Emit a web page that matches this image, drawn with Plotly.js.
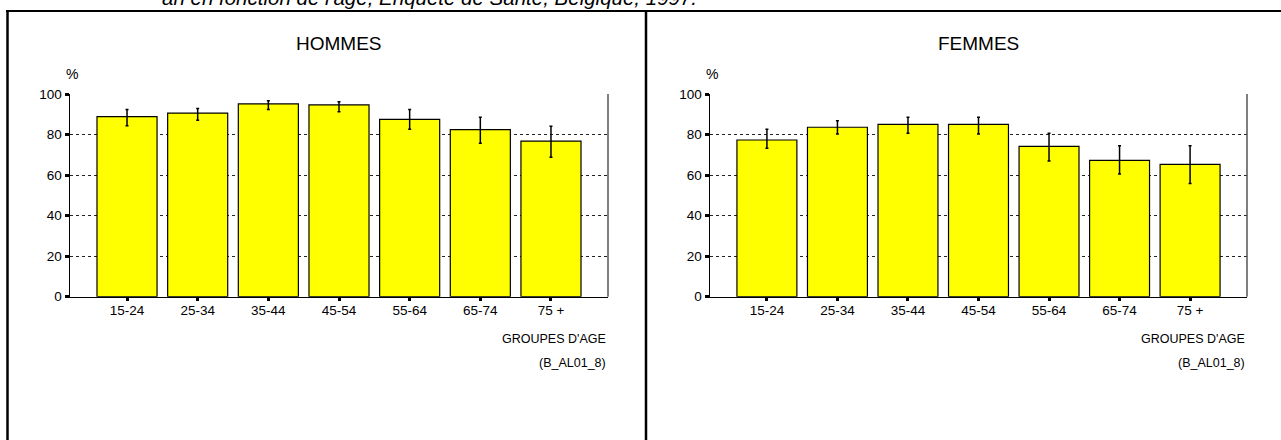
<!DOCTYPE html>
<html>
<head>
<meta charset="utf-8">
<script src="https://cdn.plot.ly/plotly-3.0.1.min.js"></script>
<style>html,body{margin:0;padding:0;background:#fff;}#chart{width:1281px;height:440px;}</style>
</head>
<body>
<div id="chart"></div>
<script>
// Data
var ageGroups = ["15-24", "25-34", "35-44", "45-54", "55-64", "65-74", "75 +"];
var hommesValues = [88.8, 90.6, 95.1, 94.6, 87.5, 82.4, 76.8];
var hommesUpper  = [92.4, 92.9, 96.7, 96.2, 92.4, 88.5, 84.1];
var hommesLower  = [84.3, 87.0, 92.4, 91.3, 82.6, 75.7, 68.8];
var femmesValues = [77.3, 83.6, 85.0, 85.0, 74.2, 67.3, 65.3];
var femmesUpper  = [82.6, 86.8, 88.5, 88.5, 80.6, 74.5, 74.5];
var femmesLower  = [73.2, 80.3, 80.6, 80.3, 66.9, 60.5, 55.9];
var yTicks = [0, 20, 40, 60, 80, 100];
var panelTitles = ["HOMMES", "FEMMES"];
var headerText = "an en fonction de l'âge, Enquête de Santé, Belgique, 1997.";
var xTitle = "GROUPES D'AGE";
var sourceCode = "(B_AL01_8)";

var W = 1281, H = 440;
var FONT = "Liberation Sans, Arial, sans-serif";
function px(x){ return x / W; }
function py(y){ return 1 - y / H; }

function diff(a, b){ return a.map(function(v, i){ return v - b[i]; }); }

function barTrace(vals, up, lo, xa, ya){
  return {
    type: "bar", x: ageGroups, y: vals, xaxis: xa, yaxis: ya,
    width: 0.85,
    marker: {color: "#FFFF00", line: {color: "#000000", width: 1.2}},
    error_y: {type: "data", symmetric: false, array: diff(up, vals), arrayminus: diff(vals, lo),
              color: "#000000", thickness: 1.5, width: 1.5},
    hoverinfo: "skip", showlegend: false
  };
}

var traces = [
  barTrace(hommesValues, hommesUpper, hommesLower, "x", "y"),
  barTrace(femmesValues, femmesUpper, femmesLower, "x2", "y2")
];

var xDomL = [px(70), px(608)], xDomR = [px(710), px(1247)];
var yDom = [py(296.7), py(94)];

function xAxis(dom, anchor){
  return {
    domain: dom, anchor: anchor, type: "category",
    range: [-0.807, 6.807], fixedrange: true,
    showline: true, linecolor: "#000", linewidth: 1.5,
    ticks: "outside", ticklen: 3, tickwidth: 3, tickcolor: "#000",
    ticklabelstandoff: -2,
    showgrid: false, zeroline: false,
    tickfont: {family: FONT, size: 13.5, color: "#000"}
  };
}
function yAxis(anchor){
  return {
    domain: yDom, anchor: anchor, range: [0, 100], fixedrange: true,
    tickvals: yTicks, ticktext: yTicks.map(String),
    showline: true, linecolor: "#000", linewidth: 1.5,
    ticks: "outside", ticklen: 4, tickwidth: 3, tickcolor: "#000",
    showgrid: true, gridcolor: "#222", gridwidth: 1, griddash: "3px,3px",
    zeroline: false,
    tickfont: {family: FONT, size: 13.5, color: "#000"}
  };
}

var annotations = [
  {text: headerText, xref: "paper", yref: "paper", x: px(160), y: py(11), xanchor: "left", yanchor: "bottom",
   showarrow: false, font: {family: FONT, size: 20.5, color: "#000", style: "italic"}},
  {text: panelTitles[0], xref: "paper", yref: "paper", x: px(339), y: py(44), xanchor: "center", yanchor: "middle",
   showarrow: false, font: {family: FONT, size: 19, color: "#000"}},
  {text: panelTitles[1], xref: "paper", yref: "paper", x: px(978), y: py(44), xanchor: "center", yanchor: "middle",
   showarrow: false, font: {family: FONT, size: 19, color: "#000"}},
  {text: "%", xref: "paper", yref: "paper", x: px(72), y: py(74), xanchor: "center", yanchor: "middle",
   showarrow: false, font: {family: FONT, size: 14, color: "#000"}},
  {text: "%", xref: "paper", yref: "paper", x: px(712), y: py(74), xanchor: "center", yanchor: "middle",
   showarrow: false, font: {family: FONT, size: 14, color: "#000"}},
  {text: xTitle, xref: "paper", yref: "paper", x: px(608), y: py(339), xanchor: "right", yanchor: "middle",
   showarrow: false, font: {family: FONT, size: 12.5, color: "#000"}},
  {text: xTitle, xref: "paper", yref: "paper", x: px(1247), y: py(339), xanchor: "right", yanchor: "middle",
   showarrow: false, font: {family: FONT, size: 12.5, color: "#000"}},
  {text: sourceCode, xref: "paper", yref: "paper", x: px(608), y: py(363), xanchor: "right", yanchor: "middle",
   showarrow: false, font: {family: FONT, size: 12.5, color: "#000"}},
  {text: sourceCode, xref: "paper", yref: "paper", x: px(1247), y: py(363), xanchor: "right", yanchor: "middle",
   showarrow: false, font: {family: FONT, size: 12.5, color: "#000"}}
];

var shapes = [
  {type: "line", xref: "paper", yref: "paper", x0: px(6), x1: 1, y0: py(11), y1: py(11), line: {color: "#000", width: 2}},
  {type: "line", xref: "paper", yref: "paper", x0: px(7.5), x1: px(7.5), y0: py(11), y1: 0, line: {color: "#000", width: 2.5}},
  {type: "line", xref: "paper", yref: "paper", x0: px(646), x1: px(646), y0: py(11), y1: 0, line: {color: "#000", width: 2.5}},
  {type: "line", xref: "x domain", yref: "y domain", x0: 1, x1: 1, y0: 0, y1: 1, line: {color: "#555", width: 1.5}},
  {type: "line", xref: "x2 domain", yref: "y2 domain", x0: 1, x1: 1, y0: 0, y1: 1, line: {color: "#555", width: 1.5}}
];

var layout = {
  width: W, height: H,
  margin: {l: 0, r: 0, t: 0, b: 0, pad: 0},
  paper_bgcolor: "#fff", plot_bgcolor: "#fff",
  showlegend: false,
  xaxis: xAxis(xDomL, "y"), yaxis: yAxis("x"),
  xaxis2: xAxis(xDomR, "y2"), yaxis2: yAxis("x2"),
  annotations: annotations, shapes: shapes,
  font: {family: FONT}
};

Plotly.newPlot("chart", traces, layout, {staticPlot: true, displayModeBar: false});
</script>
</body>
</html>
